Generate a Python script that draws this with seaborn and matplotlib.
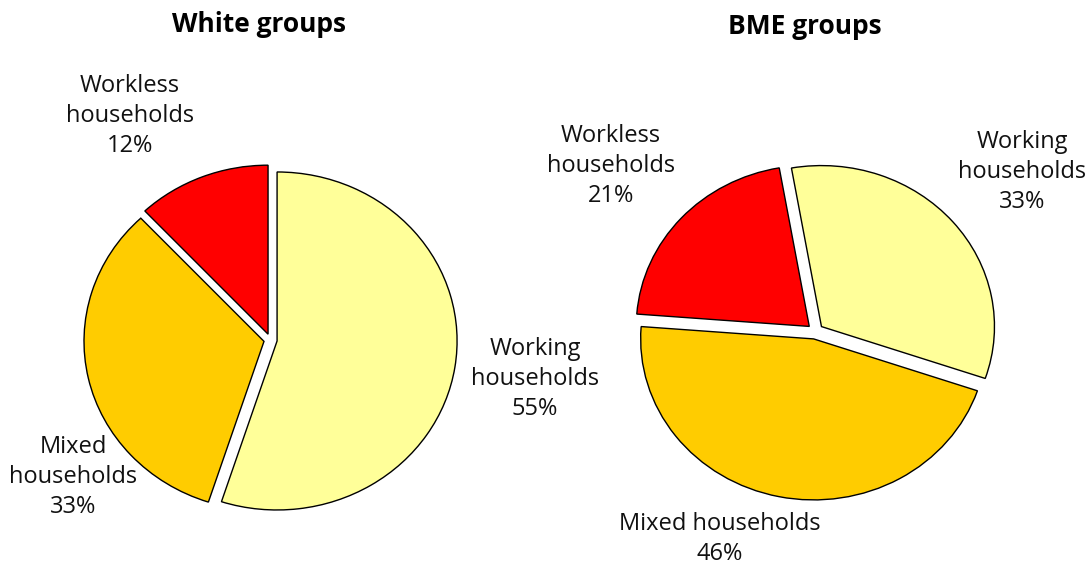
import matplotlib
matplotlib.use("Agg")
import matplotlib.pyplot as plt
import seaborn as sns

# data
categories = ["Working households", "Mixed households", "Workless households"]
white_share = [55, 33, 12]
bme_share = [33, 46, 21]
slice_colors = ["#FFFF99", "#FFCC00", "#FF0000"]

W, H = 1087, 567

sns.set_theme(style="white")
plt.rcParams["font.family"] = ["Open Sans", "DejaVu Sans"]

fig = plt.figure(figsize=(W / 100, H / 100), dpi=100)
fig.patch.set_facecolor("white")


def pie_axes(x0, x1, cx, cy, rh, rv):
    # axes covering pixel columns x0..x1, full height; radius 1 maps to rh x rv pixels
    ax = fig.add_axes([x0 / W, 0, (x1 - x0) / W, 1])
    return ax, ((x0 - cx) / rh, (x1 - cx) / rh), ((cy - H) / rv, cy / rv)


def draw_pie(ax, xlim, ylim, values, start, explode):
    ax.pie(values, colors=slice_colors, startangle=start, counterclock=False,
           explode=[explode] * len(values),
           wedgeprops=dict(edgecolor="black", linewidth=1.0))
    ax.set_aspect("auto")
    ax.set_xlim(*xlim)
    ax.set_ylim(*ylim)
    ax.axis("off")


def label(x, y, txt, **kw):
    style = dict(fontsize=17, color="#111111", linespacing=1.33)
    style.update(kw)
    fig.text(x / W, 1 - y / H, txt, ha="center", va="center", **style)


def pct_text(cat, v):
    name = cat.replace(" households", "\nhouseholds")
    return f"{name}\n{v}%"


# White groups
ax1, xl, yl = pie_axes(0, 543, 270.5, 340, 180, 169)
draw_pie(ax1, xl, yl, white_share, 90, 0.037)
label(259, 24, "White groups", fontsize=19, fontweight="bold", color="black")
label(130, 116, pct_text(categories[2], white_share[2]))
label(535, 379, pct_text(categories[0], white_share[0]))
label(73, 477, pct_text(categories[1], white_share[1]))

# BME groups
ax2, xl, yl = pie_axes(543, 1087, 815.3, 331.5, 173, 161)
draw_pie(ax2, xl, yl, bme_share, 100, 0.047)
label(805, 27, "BME groups", fontsize=19, fontweight="bold", color="black")
label(611, 166, pct_text(categories[2], bme_share[2]))
label(1022, 172, pct_text(categories[0], bme_share[0]))
label(720, 539, f"{categories[1]}\n{bme_share[1]}%")

fig.savefig("out.png", dpi=100, facecolor="white")
